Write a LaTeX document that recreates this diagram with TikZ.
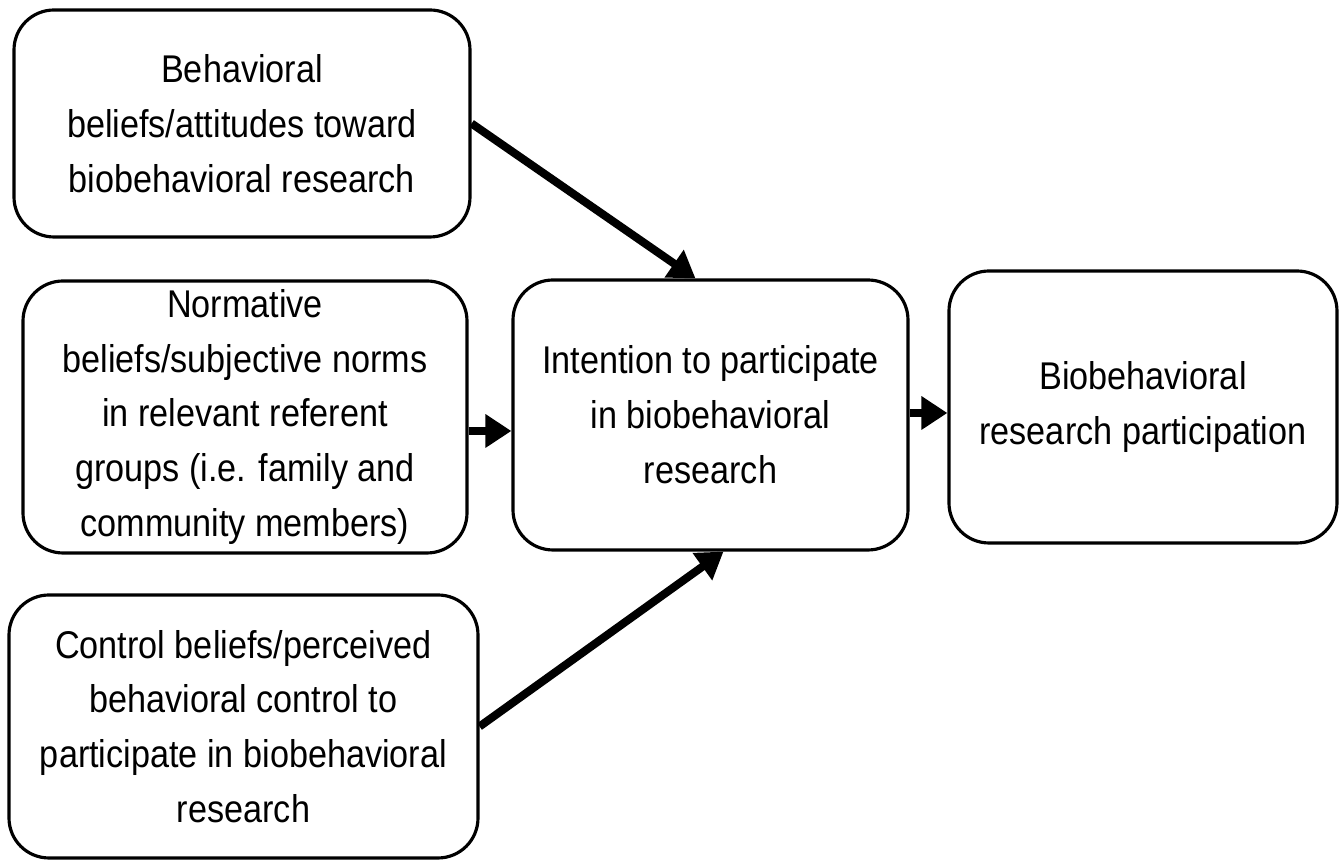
\documentclass[tikz,border=0pt]{standalone}
\usepackage{fontspec}
\setmainfont{Liberation Sans}[FakeStretch=0.885]
\usepackage{tikz}
\usetikzlibrary{positioning,calc,arrows.meta}

\begin{document}
\begin{tikzpicture}[
  box/.style={draw, line width=0.9pt, rounded corners=0.4cm, align=center,
    inner sep=0pt, font={\fontsize{11}{15.6}\selectfont}},
  arr/.style={line width=2.3pt, -{Triangle[length=0.26cm, width=0.32cm]}}]
  \useasboundingbox (0, 0) rectangle (13.44, 8.63);

  % Beliefs boxes on the left
  \node[box, minimum width=4.56cm, minimum height=2.27cm] (attitude) at (2.42, 7.395)
    {Behavioral\\beliefs/attitudes toward\\biobehavioral research};
  \node[box, minimum width=4.44cm, minimum height=2.72cm] (norms) at (2.45, 4.46)
    {Normative\\beliefs/subjective norms\\in relevant referent\\groups (i.e. family and\\community members)};
  \node[box, minimum width=4.69cm, minimum height=2.63cm] (control) at (2.435, 1.365)
    {Control beliefs/perceived\\behavioral control to\\participate in biobehavioral\\research};

  % Intention and participation
  \node[box, minimum width=3.95cm, minimum height=2.70cm] (intention) at (7.105, 4.48)
    {Intention to participate\\in biobehavioral\\research};
  \node[box, minimum width=3.88cm, minimum height=2.72cm] (particip) at (11.43, 4.56)
    {Biobehavioral\\research participation};

  % Arrows
  \draw[arr] (attitude.east) -- ([xshift=-0.15cm]intention.north);
  \draw[arr] ([yshift=-0.14cm]norms.east) -- ([yshift=-0.14cm]norms.east -| intention.west);
  \draw[arr] (control.east) -- ([xshift=0.13cm]intention.south);
  \draw[arr] ([yshift=0.02cm]intention.east) -- ([yshift=0.02cm]intention.east -| particip.west);
\end{tikzpicture}
\end{document}
